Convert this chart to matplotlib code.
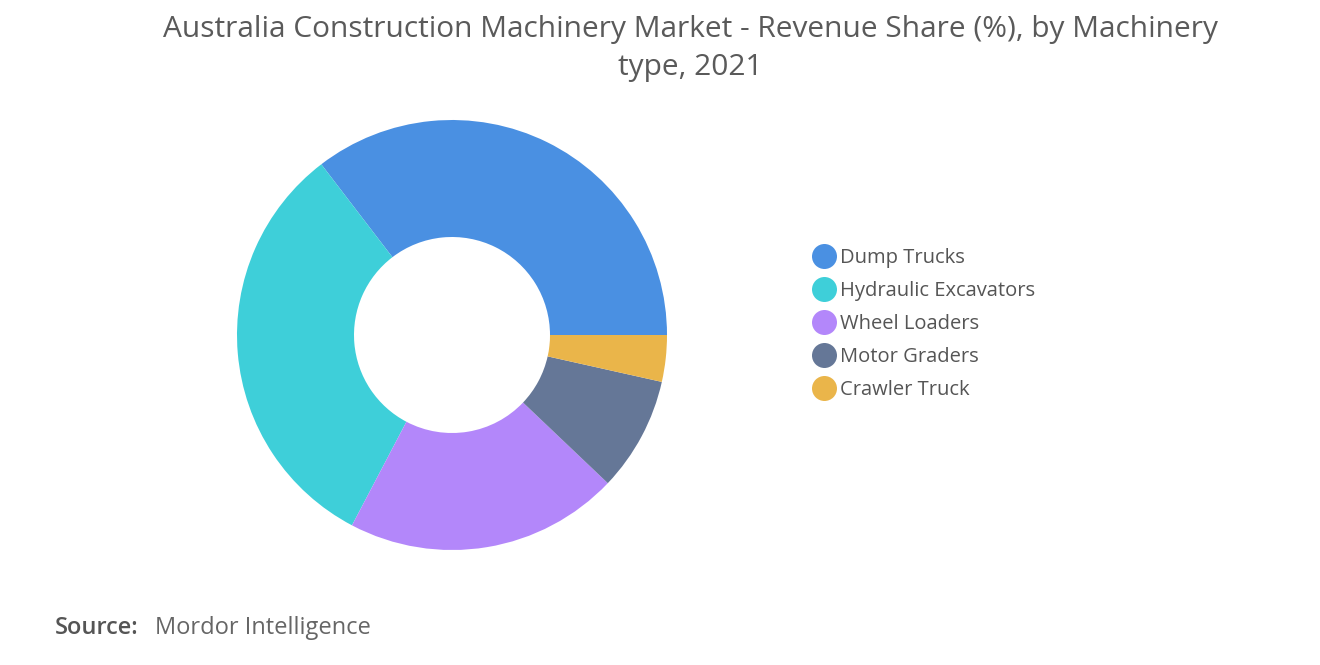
import matplotlib.pyplot as plt
from matplotlib.lines import Line2D

categories = ['Dump Trucks', 'Hydraulic Excavators', 'Wheel Loaders', 'Motor Graders', 'Crawler Truck']
shares = [35.4, 31.9, 20.6, 8.6, 3.5]
colors = ['#4a90e2', '#3ecfd9', '#b387fa', '#657797', '#eab54a']

fig = plt.figure(figsize=(13.2, 6.65), dpi=100)
ax = fig.add_axes([(452 - 215) / 1320, 1 - (335 + 215) / 665, 430 / 1320, 430 / 665])
ax.pie(shares, colors=colors, startangle=0, counterclock=True, radius=1,
       wedgeprops=dict(width=1 - 98 / 215, linewidth=0))
ax.set_aspect('equal')
ax.set_xlim(-1, 1)
ax.set_ylim(-1, 1)

fig.text(0.523, 0.977, 'Australia Construction Machinery Market - Revenue Share (%), by Machinery\ntype, 2021',
         ha='center', va='top', fontsize=21.5, color='#5a5a5a', linespacing=1.4, family='Open Sans')

handles = [Line2D([0], [0], marker='o', linestyle='none', markeredgewidth=0,
                  markerfacecolor=c, markersize=18) for c in colors]
fig.legend(handles, categories, loc='center left', bbox_to_anchor=(790 / 1320, 1 - 324 / 665),
           frameon=False, labelcolor='#555555', handletextpad=0.0, handlelength=1.6,
           labelspacing=0.64, prop={'family': 'Open Sans', 'size': 14.5})

fig.text(55 / 1320, 1 - 628 / 665, 'Source:', fontsize=17, color='#555555', va='center',
         family='Open Sans', weight='semibold')
fig.text(155 / 1320, 1 - 628 / 665, 'Mordor Intelligence', fontsize=17, color='#666666', va='center',
         family='Open Sans')

fig.savefig('out.png', dpi=100, facecolor='white')
